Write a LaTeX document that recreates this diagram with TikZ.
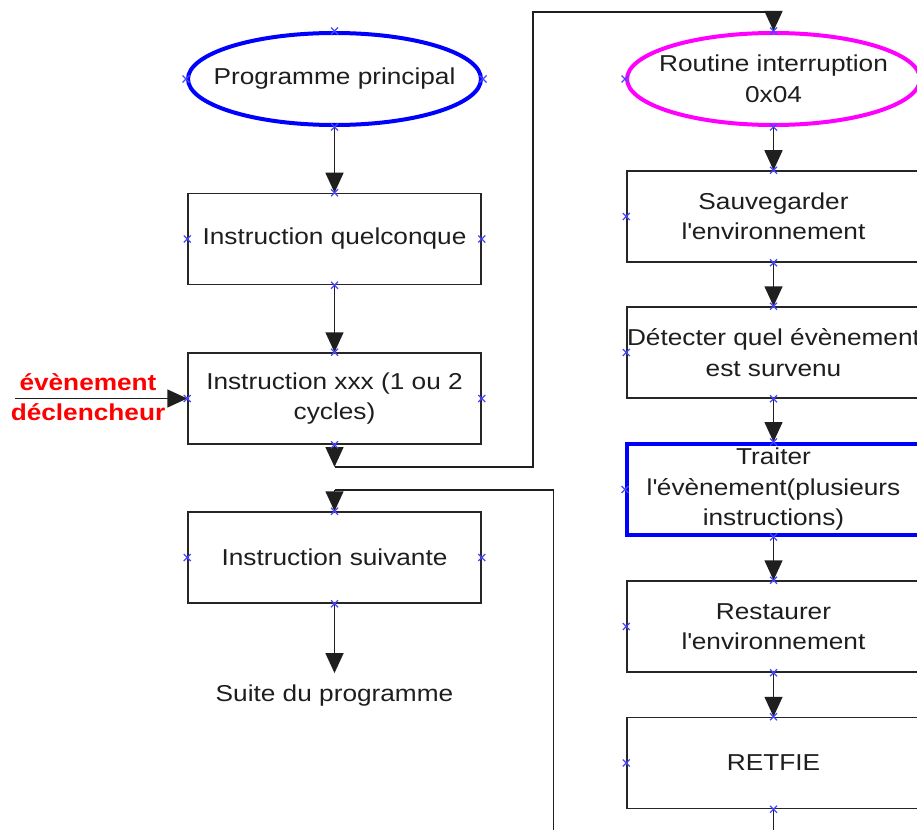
\documentclass[tikz,border=0pt]{standalone}
\usepackage{fontspec}
\setmainfont{Liberation Sans}[FakeStretch=1.14]
\usetikzlibrary{shapes.geometric,arrows.meta}
\newcommand\fsz{\fontsize{23}{30.5}\selectfont}
\definecolor{magentaR}{RGB}{255,0,255}
\definecolor{blueR}{RGB}{0,0,255}
\definecolor{mkblue}{RGB}{70,70,255}
\definecolor{txt}{RGB}{30,30,30}
\begin{document}
\begin{tikzpicture}[x=1pt,y=-1pt,
  ln/.style={line width=1.5pt, draw=black!88},
  arr/.style={ln, -{Triangle[length=20pt,width=18pt]}},
  box/.style={draw=black!85, line width=1.5pt, minimum width=293pt, minimum height=91pt, inner sep=0pt, align=center, font=\fsz, text=txt},
  ell/.style={ellipse, draw, line width=4pt, minimum width=293pt, minimum height=92pt, inner sep=0pt},
  etxt/.style={align=center, font=\fsz, text=txt, inner sep=0pt},
  xmk/.style={draw=mkblue, line width=1.1pt}]
\clip (0,0) rectangle (917,829);
\fill[white] (0,0) rectangle (917,829);
% left column
\node[ell, draw=blueR] (e1) at (334.5,79) {};
\node[etxt] (e1t) at (e1) {Programme principal};
\node[box] (b1) at (334.5,239) {Instruction quelconque};
\node[box] (b2) at (334.5,398.5) {Instruction xxx (1 ou 2\\cycles)};
\node[box] (b3) at (334.5,557.5) {Instruction suivante};
\node[etxt] (suite) at (334.5,696) {Suite du programme};
\node[align=center, font=\fsz\bfseries, text=red, inner sep=0pt] (ev) at (88,397) {évènement\\déclencheur};
% right column
\node[ell, draw=magentaR] (e2) at (773.5,79) {};
\node[etxt] (e2t) at (e2) {Routine interruption\\0x04};
\node[box] (r1) at (773.5,216.5) {Sauvegarder\\l\textquotesingle environnement};
\node[box] (r2) at (773.5,352.5) {Détecter quel évènement\\est survenu};
\node[box, draw=blueR, line width=4pt] (r3) at (773.5,489.5) {Traiter\\l\textquotesingle évènement(plusieurs\\instructions)};
\node[box] (r4) at (773.5,626.5) {Restaurer\\l\textquotesingle environnement};
\node[box] (r5) at (773.5,763) {RETFIE};
% coordinates
\coordinate (c1) at (334.5,467);
\coordinate (c2) at (533,467);
\coordinate (c3) at (533,12);
\coordinate (c4) at (773.5,12);
\coordinate (d1) at (553.5,840);
\coordinate (d2) at (553.5,490);
\coordinate (d3) at (334.5,490);
\coordinate (f1) at (773.5,840);
\coordinate (evs) at (15,398.5);
% connectors
\draw[arr] (e1.south) -- (b1.north);
\draw[arr] (b1.south) -- (b2.north);
\draw[arr] (evs) -- (b2.west);
\draw[arr] (b2.south) -- (c1);
\draw[ln] (c1) -- (c2) -- (c3) -- (c4);
\draw[arr] (c4) -- (e2.north);
\draw[arr] (e2.south) -- (r1.north);
\draw[arr] (r1.south) -- (r2.north);
\draw[arr] (r2.south) -- (r3.north);
\draw[arr] (r3.south) -- (r4.north);
\draw[arr] (r4.south) -- (r5.north);
\draw[ln] (r5.south) -- (f1);
\draw[ln] (d1) -- (d2) -- (d3);
\draw[arr] (d3) -- (b3.north);
\draw[arr] (b3.south) -- ([yshift=12pt]suite.north);
% connection markers
\foreach \n in {e1,b1,b2,b3,e2,r1,r2,r3,r4,r5}
  \foreach \a in {north,south,east,west}
    \draw[xmk] (\n.\a) +(-3.5,-3.5) -- +(3.5,3.5) +(-3.5,3.5) -- +(3.5,-3.5);
\end{tikzpicture}
\end{document}
